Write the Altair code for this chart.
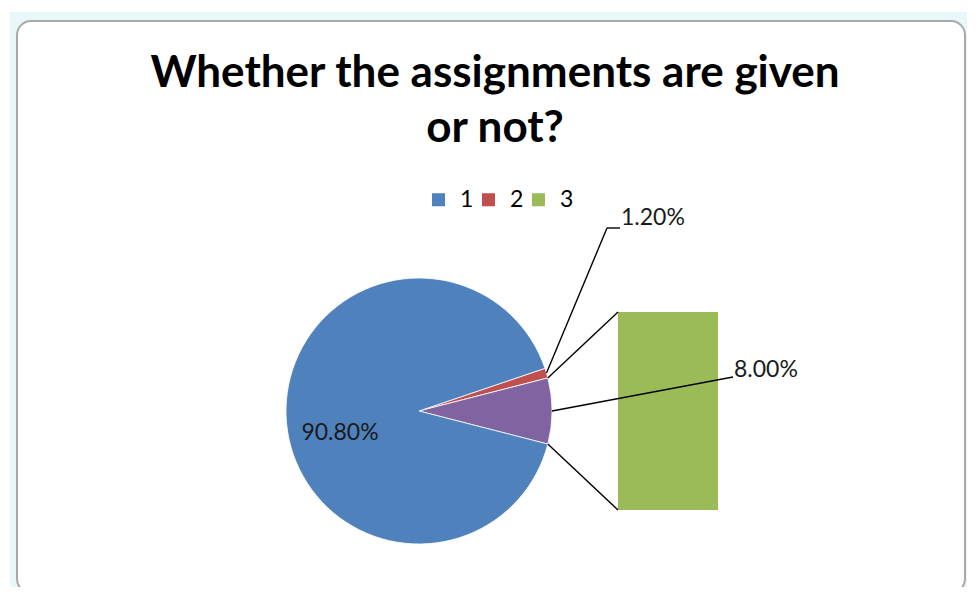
import math
import altair as alt
import pandas as pd

# ---- data ----
title_lines = ["Whether the assignments are given", "or not?"]
categories = ["1", "2", "3"]
values = [90.8, 1.2, 8.0]
other_name = "Other"
palette = {"1": "#4F81BD", "2": "#C0504D", "3": "#9BBB59", "Other": "#8064A2"}

# ---- layout (plot-area pixels) ----
W, H = 959, 579
CX, CY, R = 411, 403, 133
BAR_X0, BAR_X1, BAR_TOP, BAR_BOTTOM = 610, 710, 304, 502
FONT = "Lato"
LABEL_SIZE = 23

total = sum(values)
other_val = values[2]
half = math.pi * other_val / total
red_span = 2 * math.pi * values[1] / total
start = math.pi / 2 - half - red_span


def pt(a, r=R):
    return CX + r * math.sin(a), CY - r * math.cos(a)


pie_df = pd.DataFrame({
    "slice": ["2", other_name, "1"],
    "value": [values[1], other_val, values[0]],
    "order": [0, 1, 2],
    "fill": [palette["2"], palette[other_name], palette["1"]],
})

one = pd.DataFrame({"k": [0]})

background = alt.Chart(one).mark_rect(fill="#e8f7f9").encode(
    x=alt.value(2), x2=alt.value(W), y=alt.value(4), y2=alt.value(H))
frame = alt.Chart(one).mark_rect(fill="white", stroke="#a9a9a9", strokeWidth=2,
                                 cornerRadius=14).encode(
    x=alt.value(9), x2=alt.value(957), y=alt.value(13), y2=alt.value(585))

title_layers = []
for i, line in enumerate(title_lines):
    title_layers.append(
        alt.Chart(one).mark_text(font=FONT, fontSize=44, fontWeight="bold",
                                 color="black", align="center", baseline="middle").encode(
            x=alt.value(487), y=alt.value(66 + 55 * i), text=alt.value(line)))

pie = alt.Chart(pie_df).mark_arc(radius=R, stroke="white", strokeWidth=0.8).encode(
    theta=alt.Theta("value:Q", stack=True,
                    scale=alt.Scale(range=[start, start + 2 * math.pi])),
    order=alt.Order("order:Q"),
    fill=alt.Fill("fill:N", scale=None),
    x=alt.value(CX), y=alt.value(CY),
)

bar_df = pd.DataFrame({"series": ["3"], "value": [values[2]]})
bar = alt.Chart(bar_df).mark_rect().encode(
    x=alt.value(BAR_X0), x2=alt.value(BAR_X1),
    y=alt.Y("value:Q", scale=alt.Scale(domain=[0, values[2]], range=[BAR_BOTTOM, BAR_TOP]),
            axis=None),
    y2=alt.datum(0),
    color=alt.Color("series:N",
                    scale=alt.Scale(domain=categories,
                                    range=[palette[c] for c in categories]),
                    legend=alt.Legend(orient="none", legendX=419, legendY=180,
                                      direction="horizontal", title=None,
                                      symbolType="square", symbolSize=170,
                                      symbolStrokeWidth=0, labelFont=FONT,
                                      labelFontSize=LABEL_SIZE, labelColor="black",
                                      columnPadding=3, labelOffset=10)),
)

# connector lines pie -> bar
top_a = math.pi / 2 - half
bot_a = math.pi / 2 + half
tx, ty = pt(top_a)
bx, by = pt(bot_a)
segments = [
    (tx, ty, BAR_X0, BAR_TOP),
    (bx, by, BAR_X0, BAR_BOTTOM),
]
# leader for series 2
rx, ry = pt(start + red_span / 2)
segments += [(rx, ry, 599, 220), (599, 220, 612, 220)]
# leader for series 3 (other)
ox, oy = pt(math.pi / 2)
segments += [(ox, oy, 725, 369)]

rules = []
for (x1, y1, x2, y2) in segments:
    rules.append(alt.Chart(one).mark_rule(color="black", strokeWidth=1.4).encode(
        x=alt.value(x1), y=alt.value(y1), x2=alt.value(x2), y2=alt.value(y2)))

def lab(text, x, y, align="left"):
    return alt.Chart(one).mark_text(font=FONT, fontSize=LABEL_SIZE, color="#1a1a1a",
                                    align=align, baseline="middle").encode(
        x=alt.value(x), y=alt.value(y), text=alt.value(text))

labels = [
    lab(f"{values[0]:.2f}%", 332, 425, "center"),
    lab(f"{values[1]:.2f}%", 613, 210),
    lab(f"{values[2]:.2f}%", 726, 362),
]

chart = alt.layer(background, frame, *title_layers, pie, bar, *rules, *labels).properties(
    width=W, height=H, autosize=alt.AutoSizeParams(type="none"), padding=0
).configure_view(stroke=None)

chart.save("out.html", embed_options={"renderer": "svg", "actions": False})
